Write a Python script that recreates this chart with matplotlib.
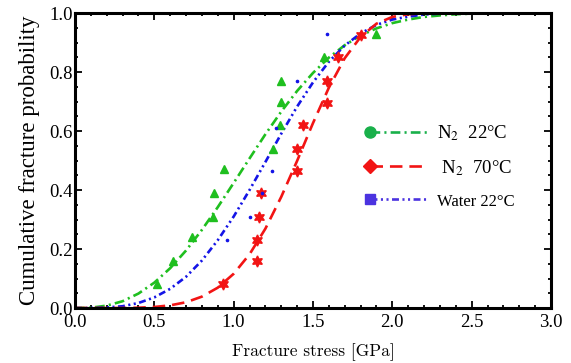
import numpy as np
import matplotlib
matplotlib.use("Agg")
import matplotlib.pyplot as plt
from matplotlib.legend_handler import HandlerLine2D
from matplotlib.lines import Line2D
from matplotlib.ticker import MultipleLocator, FormatStrFormatter

plt.rcParams['font.family'] = ['Liberation Serif', 'DejaVu Serif']
plt.rcParams['mathtext.fontset'] = 'stix'
plt.rcParams['lines.scale_dashes'] = False

# ---- data points ----
n2_22_x = [0.52, 0.62, 0.74, 0.87, 0.876, 0.94, 1.25, 1.29, 1.30, 1.30, 1.57, 1.90]
n2_22_y = [0.08, 0.16, 0.24, 0.31, 0.39, 0.47, 0.54, 0.62, 0.70, 0.77, 0.85, 0.93]

n2_70_x = [0.93, 1.15, 1.15, 1.16, 1.17, 1.40, 1.40, 1.44, 1.59, 1.59, 1.66, 1.80]
n2_70_y = [0.08, 0.16, 0.23, 0.31, 0.39, 0.465, 0.54, 0.62, 0.695, 0.77, 0.85, 0.925]

water_x = [0.96, 1.10, 1.18, 1.24, 1.27, 1.40, 1.59]
water_y = [0.23, 0.31, 0.39, 0.465, 0.61, 0.77, 0.93]

# ---- fitted curves ----
curve_x = [0.0, 0.1, 0.2, 0.3, 0.4, 0.5, 0.6, 0.7, 0.8, 0.9, 1.0, 1.1, 1.2, 1.3,
           1.4, 1.5, 1.6, 1.7, 1.8, 1.9, 2.0, 2.1, 2.2, 2.3, 2.4, 2.5]
n2_22_fit = [0.0, 0.001, 0.008, 0.023, 0.049, 0.086, 0.135, 0.195, 0.265, 0.342,
             0.424, 0.507, 0.589, 0.666, 0.736, 0.797, 0.849, 0.891, 0.924, 0.948,
             0.966, 0.978, 0.987, 0.992, 0.996, 0.998]
water_fit = [0.0, 0.0, 0.002, 0.006, 0.017, 0.036, 0.065, 0.106, 0.161, 0.230,
             0.310, 0.400, 0.495, 0.591, 0.683, 0.765, 0.835, 0.890, 0.931, 0.960,
             0.978, 0.988, 0.995, 0.998, 0.999, 1.0]
n2_70_fit = [0.0, 0.0, 0.0, 0.0, 0.001, 0.0035, 0.009, 0.0195, 0.0386, 0.069,
             0.116, 0.182, 0.269, 0.377, 0.499, 0.627, 0.747, 0.847, 0.919, 0.964,
             0.987, 0.996, 0.999, 1.0, 1.0, 1.0]

labels = [r"N$_2$  22°C", r" N$_2$  70°C", "Water 22°C"]

green = "#1fbf1f"
red = "#f21414"
blue = "#1414e6"

fig = plt.figure(figsize=(5.71, 3.63), dpi=100)
ax = fig.add_axes([0.1313, 0.1515, 0.8337, 0.8125])

ax.plot(curve_x, n2_22_fit, color=green, lw=1.9, ls=(0, (7, 3, 1.5, 3)))
ax.plot(curve_x, water_fit, color=blue, lw=1.9, ls=(0, (5, 2.5, 1.5, 2.5, 1.5, 2.5)))
ax.plot(curve_x, n2_70_fit, color=red, lw=1.9, ls=(0, (9, 5)))

ax.plot(n2_22_x, n2_22_y, ls='none', marker='^', ms=6, color=green, mec=green)
ax.plot(n2_70_x, n2_70_y, ls='none', marker=(6, 1, 0), ms=8, color=red, mec=red)
ax.plot(water_x, water_y, ls='none', marker='o', ms=1.6, color=blue, mec=blue)

ax.set_xlim(0, 3.0)
ax.set_ylim(0, 1.0)
ax.xaxis.set_major_locator(MultipleLocator(0.5))
ax.xaxis.set_minor_locator(MultipleLocator(0.1))
ax.yaxis.set_major_locator(MultipleLocator(0.2))
ax.yaxis.set_minor_locator(MultipleLocator(0.05))
ax.xaxis.set_major_formatter(FormatStrFormatter('%.1f'))
ax.yaxis.set_major_formatter(FormatStrFormatter('%.1f'))
ax.tick_params(which='both', direction='in', top=True, right=True, labelsize=13.5,
               colors='black', width=1.3)
ax.tick_params(which='major', length=5)
ax.tick_params(which='minor', length=2.5)
ax.tick_params(axis='x', pad=4)
ax.tick_params(axis='y', pad=1.5)
for s in ax.spines.values():
    s.set_linewidth(2.2)

ax.set_xlabel("Fracture stress [GPa]", fontsize=12.5, family='cmr10', labelpad=9)
ax.set_ylabel("Cumulative fracture probability", fontsize=16.5, labelpad=7)


class StartMarker(HandlerLine2D):
    def create_artists(self, legend, orig_handle, xdescent, ydescent, width,
                       height, fontsize, trans):
        arts = super().create_artists(legend, orig_handle, xdescent, ydescent,
                                      width, height, fontsize, trans)
        for a in arts:
            a.set_markevery([0])
        return arts


handles = [
    Line2D([], [], color="#19b04a", lw=1.9, ls=(0, (7, 3, 1.5, 3)), marker='o', ms=8),
    Line2D([], [], color=red, lw=1.9, ls=(0, (9, 5)), marker='D', ms=7),
    Line2D([], [], color="#4b33e0", lw=1.9, ls=(0, (5, 2.5, 1.5, 2.5, 1.5, 2.5)), marker='s', ms=7),
]
leg = ax.legend(handles, labels, loc='center left', bbox_to_anchor=(0.585, 0.48),
                frameon=False, fontsize=13.5, handlelength=3.0, handletextpad=0.55,
                labelspacing=0.8, handler_map={Line2D: StartMarker()})
leg.get_texts()[2].set_fontsize(12)

fig.savefig("out.png", dpi=100)
